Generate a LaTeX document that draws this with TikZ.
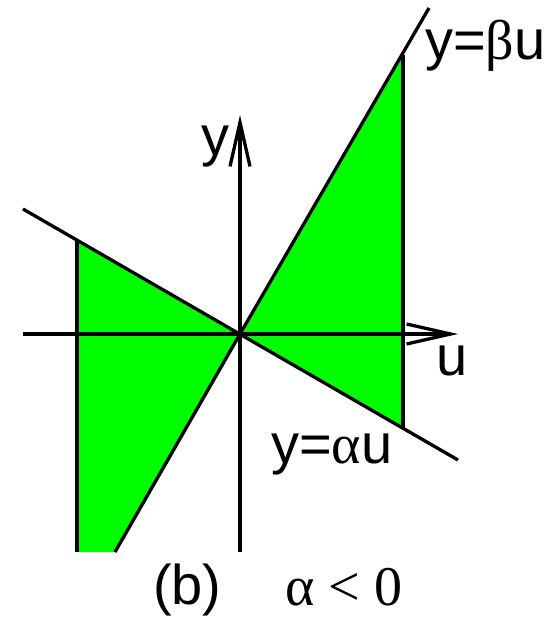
\documentclass[tikz,border=0pt]{standalone}
\usepackage{fontspec}
\setmainfont{Liberation Sans}
\newfontfamily\grk{Liberation Serif}
\usetikzlibrary{arrows.meta}
\begin{document}
\begin{tikzpicture}[x=1bp,y=-1bp,
  ln/.style={line width=3.3bp, black},
  ax/.style={ln, -{Straight Barb[length=44bp,width=20bp]}},
  lbl/.style={inner sep=0pt, font=\fontsize{56bp}{62bp}\selectfont},
  fillg/.style={fill={rgb,255:red,0;green,255;blue,0}}]
\useasboundingbox (0,0) rectangle (556,618);
% coordinates
\coordinate (O) at (240,334);
\coordinate (A1) at (23,209);
\coordinate (A2) at (458,460);
\coordinate (B1) at (429,8);
\coordinate (RT) at (403,55);
\coordinate (RB) at (403,427);
\coordinate (LT) at (77,241);
\coordinate (LB) at (77,552);
\coordinate (BB) at (115,552);
\coordinate (HL) at (23,334);
\coordinate (HR) at (458,334);
\coordinate (VB) at (240,552);
\coordinate (VT) at (240,115);
% fills
\fill[fillg] (O) -- (RT) -- (RB) -- cycle;
\fill[fillg] (O) -- (LT) -- (LB) -- (BB) -- cycle;
% region edges
\draw[ln] (RT) -- (RB);
\draw[ln] (LT) -- (LB);
\draw[ln] (BB) -- (O) -- (B1);
\draw[ln] (A1) -- (A2);
% axes
\draw[ax] (HL) -- (HR);
\draw[ax] (VB) -- (VT);
% labels
\node[lbl, anchor=base] (ly) at (215,156) {y};
\node[lbl, anchor=base] (lu) at (452,375) {u};
\node[lbl, anchor=base west] (lb) at (425,60) {y=\grk β\normalfont u};
\node[lbl, anchor=base west] (la) at (271,463) {y=\grk α\normalfont u};
\node[lbl, anchor=base west] (cap) at (153,604) {(b)};
\node[lbl, anchor=base west] (cond) at (285,605) {\grk α \textless{} 0};
\end{tikzpicture}
\end{document}
